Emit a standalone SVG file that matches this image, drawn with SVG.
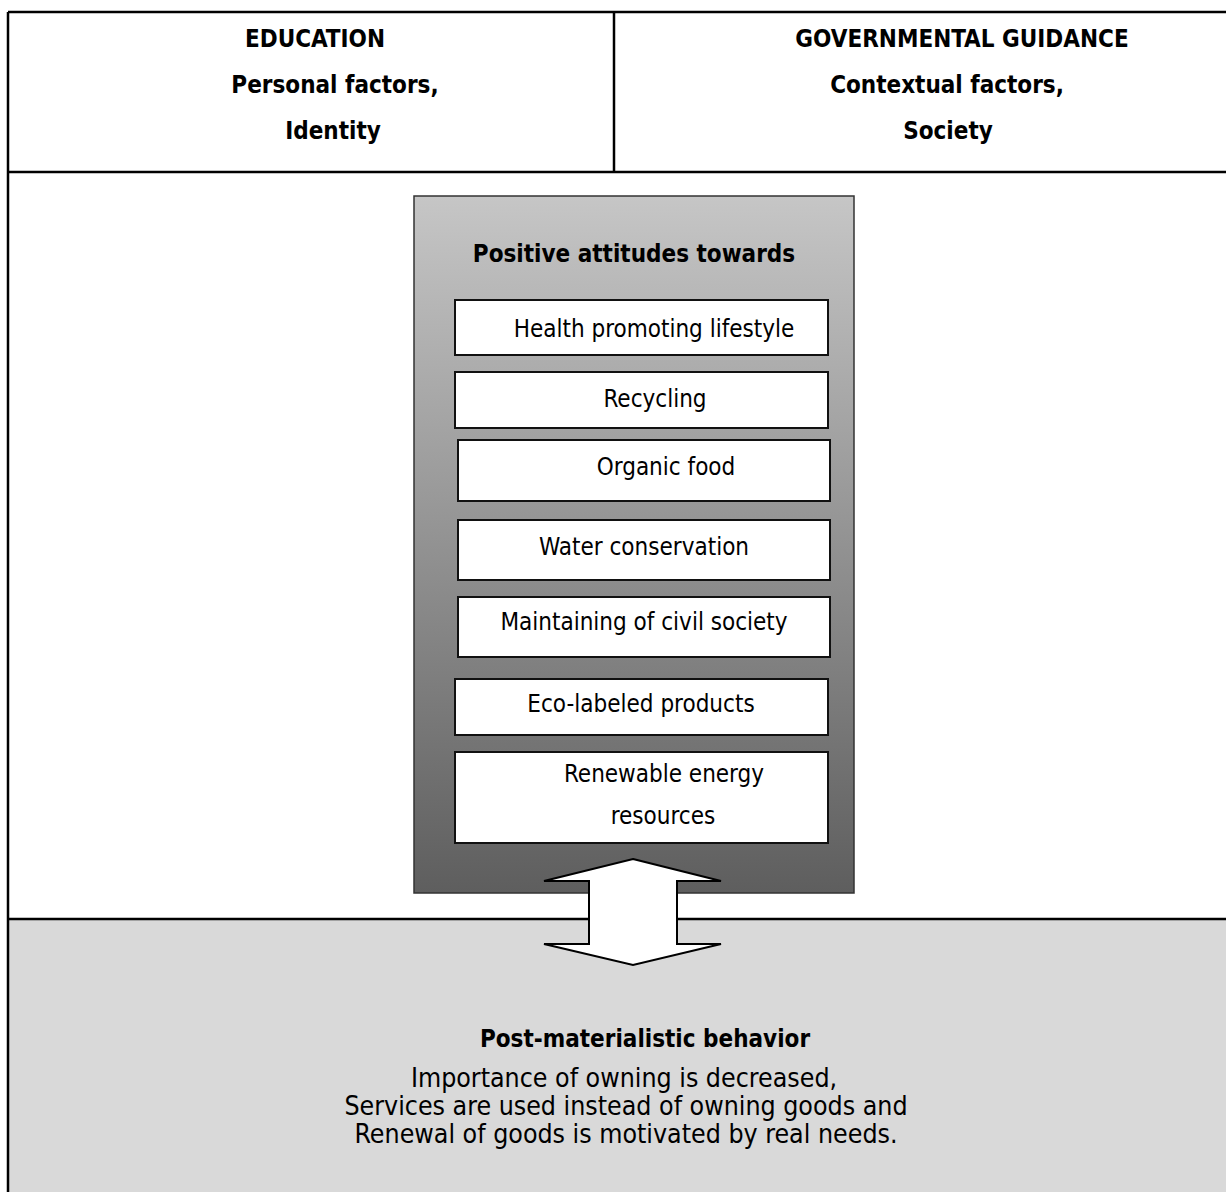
<svg xmlns="http://www.w3.org/2000/svg" width="1226" height="1192" viewBox="0 0 1226 1192">
  <style>
    text { font-family: "DejaVu Sans Condensed", "DejaVu Sans", sans-serif; font-stretch: condensed; font-size: 24px; fill: #000; text-anchor: middle; }
    .b { font-weight: bold; }
    .body { font-size: 26.5px; }
    .frame { stroke: #000; stroke-width: 2.5; fill: none; }
    .item { fill: #fff; stroke: #111; stroke-width: 2; }
  </style>
  <defs>
    <linearGradient id="attGrad" x1="0" y1="0" x2="0" y2="1">
      <stop offset="0" stop-color="#c6c6c6"/>
      <stop offset="1" stop-color="#5e5e5e"/>
    </linearGradient>
  </defs>

  <rect width="1226" height="1192" fill="#fff"/>

  <!-- behaviour band at the bottom -->
  <g id="behavior">
    <rect x="8" y="919" width="1218" height="273" fill="#d9d9d9"/>
    <line class="frame" x1="8" y1="919" x2="1226" y2="919"/>
    <text class="b" x="645" y="1047">Post-materialistic behavior</text>
    <text class="body" x="624" y="1087">Importance of owning is decreased,</text>
    <text class="body" x="626" y="1115">Services are used instead of owning goods and</text>
    <text class="body" x="626" y="1143">Renewal of goods is motivated by real needs.</text>
  </g>

  <!-- outer frame and header cells -->
  <g id="frame">
    <line class="frame" x1="8" y1="12" x2="1226" y2="12"/>
    <line class="frame" x1="8" y1="12" x2="8" y2="1192"/>
    <line class="frame" x1="614" y1="12" x2="614" y2="172"/>
    <line class="frame" x1="8" y1="172" x2="1226" y2="172"/>
  </g>

  <g id="education">
    <text class="b" x="315" y="47">EDUCATION</text>
    <text class="b" x="335" y="93">Personal factors,</text>
    <text class="b" x="333" y="139">Identity</text>
  </g>

  <g id="guidance">
    <text class="b" x="962" y="47">GOVERNMENTAL GUIDANCE</text>
    <text class="b" x="947" y="93">Contextual factors,</text>
    <text class="b" x="948" y="139">Society</text>
  </g>

  <!-- attitudes panel -->
  <g id="attitudes">
    <rect x="414" y="196" width="440" height="697" fill="url(#attGrad)" stroke="#333" stroke-width="1.5"/>
    <text class="b" x="634" y="262">Positive attitudes towards</text>
  </g>

  <g id="health">
    <rect class="item" x="455" y="300" width="373" height="55"/>
    <text x="654" y="337">Health promoting lifestyle</text>
  </g>
  <g id="recycling">
    <rect class="item" x="455" y="372" width="373" height="56"/>
    <text x="655" y="407">Recycling</text>
  </g>
  <g id="organic">
    <rect class="item" x="458" y="440" width="372" height="61"/>
    <text x="666" y="475">Organic food</text>
  </g>
  <g id="water">
    <rect class="item" x="458" y="520" width="372" height="60"/>
    <text x="644" y="555">Water conservation</text>
  </g>
  <g id="civil">
    <rect class="item" x="458" y="597" width="372" height="60"/>
    <text x="644" y="630">Maintaining of civil society</text>
  </g>
  <g id="eco">
    <rect class="item" x="455" y="679" width="373" height="56"/>
    <text x="641" y="712">Eco-labeled products</text>
  </g>
  <g id="renewable">
    <rect class="item" x="455" y="752" width="373" height="91"/>
    <text x="664" y="782">Renewable energy</text>
    <text x="663" y="824">resources</text>
  </g>

  <!-- connectors -->
  <g id="connectors">
    <polygon points="633,859 721,881 677,881 677,944 721,944 633,965 544,944 589,944 589,881 544,881" fill="#fff" stroke="#000" stroke-width="2" stroke-linejoin="miter"/>
  </g>
</svg>
